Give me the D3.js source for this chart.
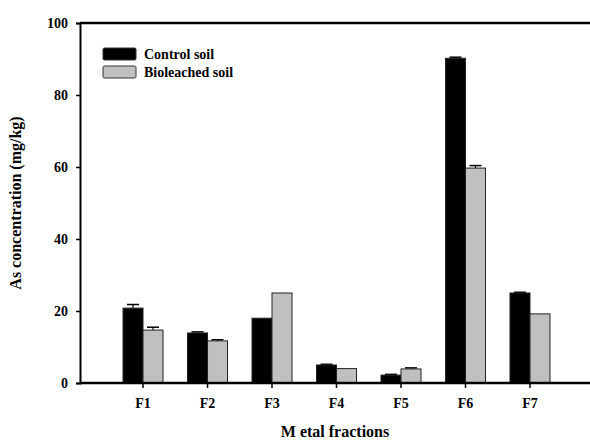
<!DOCTYPE html>
<html lang="en">
<head>
  <meta charset="UTF-8" />
  <title>As concentration by metal fraction</title>
  <script src="https://d3js.org/d3.v7.min.js"></script>
  <style>
    body { margin: 0; background: #fff; }
    svg { display: block; }
    text { font-family: "Liberation Serif", "Times New Roman", serif; font-weight: bold; fill: #000; }
    .tick text { font-size: 14px; }
    .axis-title { font-size: 16px; }
    .legend text { font-size: 14px; }
  </style>
</head>
<body>
  <svg id="chart" width="590" height="441"></svg>

  <script>
    const fractions = ["F1", "F2", "F3", "F4", "F5", "F6", "F7"];
    const seriesNames = ["Control soil", "Bioleached soil"];
    const controlValues = [20.8, 13.9, 18.0, 5.0, 2.2, 90.2, 25.0];
    const controlErrors = [1.0, 0.3, 0, 0.2, 0.2, 0.3, 0.2];
    const bioleachedValues = [14.7, 11.7, 25.0, 4.0, 3.9, 59.7, 19.2];
    const bioleachedErrors = [0.8, 0.3, 0, 0, 0.3, 0.7, 0];
    const yTicks = [0, 20, 40, 60, 80, 100];
    const colors = ["#000000", "#c0c0c0"];

    const margin = { top: 23, right: 0, bottom: 58, left: 80 };
    const width = 590 - margin.left - margin.right;
    const height = 441 - margin.top - margin.bottom;

    const svg = d3.select("#chart");
    const g = svg.append("g").attr("transform", `translate(${margin.left},${margin.top})`);

    // category step ~64.5px, 40px bar pair, first centered ~63px from the y axis
    const x = d3.scaleBand()
      .domain(fractions)
      .range([0, 513])
      .paddingInner(0.38)
      .paddingOuter(0.667);

    const xSub = d3.scaleBand()
      .domain(seriesNames)
      .range([0, x.bandwidth()]);

    const y = d3.scaleLinear().domain([0, 100]).range([height, 0]);

    const rows = fractions.map((f, i) => ({
      fraction: f,
      bars: [
        { name: seriesNames[0], value: controlValues[i], err: controlErrors[i] },
        { name: seriesNames[1], value: bioleachedValues[i], err: bioleachedErrors[i] }
      ]
    }));

    const groups = g.selectAll(".group")
      .data(rows)
      .join("g")
      .attr("class", "group")
      .attr("transform", d => `translate(${x(d.fraction)},0)`);

    // error bars (upper cap only, drawn behind bars)
    groups.selectAll(".err")
      .data(d => d.bars.filter(b => b.err > 0))
      .join("g")
      .attr("class", "err")
      .each(function (b) {
        const cx = xSub(b.name) + xSub.bandwidth() / 2;
        const sel = d3.select(this);
        sel.append("line")
          .attr("x1", cx).attr("x2", cx)
          .attr("y1", y(b.value)).attr("y2", y(b.value + b.err))
          .attr("stroke", "#000").attr("stroke-width", 1.2);
        sel.append("line")
          .attr("x1", cx - 6).attr("x2", cx + 6)
          .attr("y1", y(b.value + b.err)).attr("y2", y(b.value + b.err))
          .attr("stroke", "#000").attr("stroke-width", 1.5);
      });

    groups.selectAll("rect")
      .data(d => d.bars)
      .join("rect")
      .attr("x", b => xSub(b.name))
      .attr("width", xSub.bandwidth())
      .attr("y", b => y(b.value))
      .attr("height", b => y(0) - y(b.value))
      .attr("fill", (b, i) => colors[i])
      .attr("stroke", "#222")
      .attr("stroke-width", 1);

    // y axis
    const yAxis = g.append("g")
      .call(d3.axisLeft(y).tickValues(yTicks).tickSize(4).tickPadding(8).tickFormat(d3.format("d")));
    yAxis.select(".domain").attr("stroke-width", 2);
    yAxis.selectAll(".tick line").attr("stroke-width", 1.5);

    // x axis
    const xAxis = g.append("g")
      .attr("transform", `translate(0,${height})`)
      .call(d3.axisBottom(x).tickSize(5).tickPadding(10).tickSizeOuter(0));
    xAxis.select(".domain").attr("d", `M0,0H${width}`).attr("stroke-width", 2.5);
    xAxis.selectAll(".tick line").attr("stroke-width", 1.5);

    // top frame line
    g.append("line")
      .attr("x1", 0).attr("x2", width)
      .attr("y1", 0).attr("y2", 0)
      .attr("stroke", "#000").attr("stroke-width", 2.5);

    // axis titles
    svg.append("text")
      .attr("class", "axis-title")
      .attr("x", margin.left + width / 2)
      .attr("y", 437)
      .attr("text-anchor", "middle")
      .text("M etal fractions");

    svg.append("text")
      .attr("class", "axis-title")
      .attr("transform", `translate(21,${margin.top + height / 2}) rotate(-90)`)
      .attr("text-anchor", "middle")
      .text("As concentration (mg/kg)");

    // legend
    const legend = svg.append("g").attr("class", "legend")
      .attr("transform", "translate(103,48)");
    const item = legend.selectAll("g")
      .data(seriesNames)
      .join("g")
      .attr("transform", (d, i) => `translate(0,${i * 18})`);
    item.append("rect")
      .attr("width", 33).attr("height", 12).attr("rx", 1.5)
      .attr("fill", (d, i) => colors[i])
      .attr("stroke", "#333").attr("stroke-width", 1);
    item.append("text")
      .attr("x", 41).attr("y", 11)
      .text(d => d);
  </script>
</body>
</html>
